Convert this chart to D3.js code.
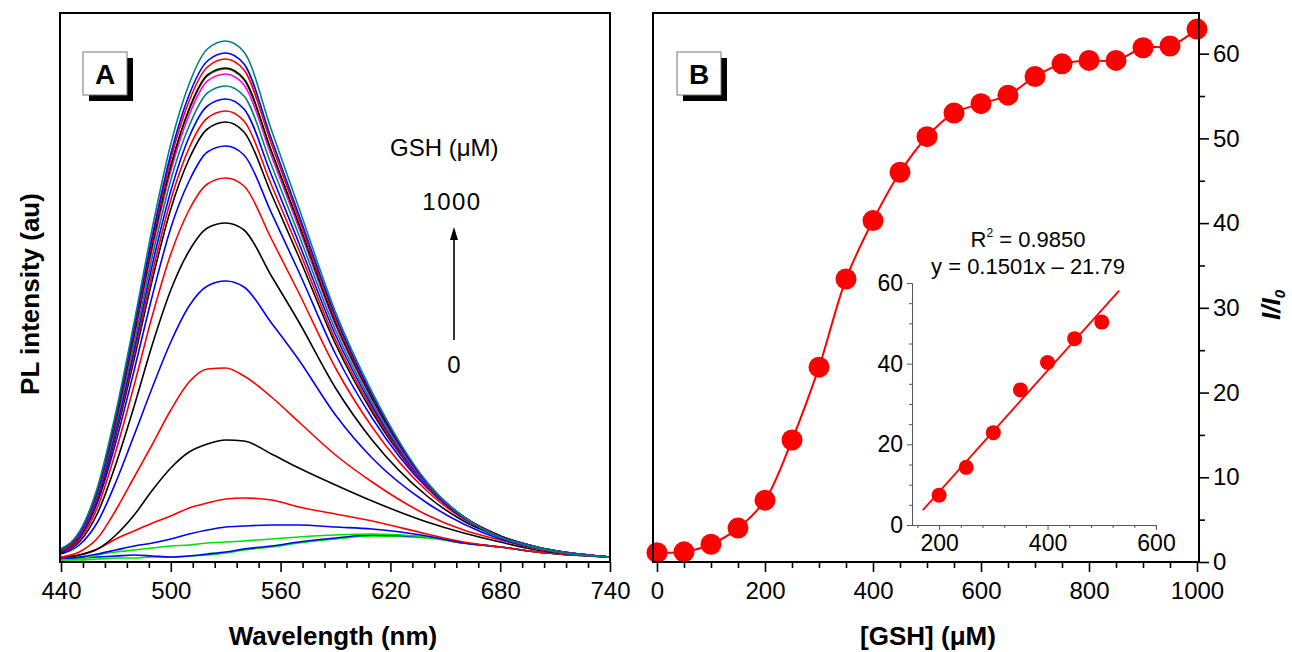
<!DOCTYPE html>
<html>
<head>
<meta charset="utf-8">
<script src="https://cdn.jsdelivr.net/npm/d3@7"></script>
<style>
  body { margin: 0; background: #fff; }
  text { font-family: "Liberation Sans", Arial, sans-serif; }
</style>
</head>
<body>
<div id="chart"></div>
<script>
// ---- panel A: PL spectra, one row per GSH concentration (0 .. 1000 uM)
var wavelengths = [440, 450, 460, 470, 480, 490, 500, 510, 520, 530, 540, 555, 570, 590, 610, 640, 660, 680, 700, 740];
var concentrations = [0, 50, 100, 150, 200, 250, 300, 350, 400, 450, 500, 550, 600, 650, 700, 750, 800, 850, 900, 950, 1000];
var spectraColors = ["#00e000", "#0000ff", "#00e000", "#0000ff", "#ff0000", "#000000", "#ff0000", "#0000ff",
  "#000000", "#ff0000", "#0000ff", "#000000", "#ff0000", "#0000ff", "#008080", "#ff00ff", "#808000",
  "#000000", "#ff0000", "#0000ff", "#008080"];
var spectra = [
  [2, 2, 3, 4, 4, 5, 5, 6, 7, 9, 12, 15, 19, 23, 26, 24, 19, 15, 10, 5],
  [3, 4, 5, 6, 7, 6, 5, 6, 8, 10, 13, 16, 20, 24, 27, 25, 19, 15, 10, 5],
  [2, 3, 7, 10, 12, 14, 16, 17, 19, 20, 21, 23, 25, 27, 28, 25, 19, 15, 10, 5],
  [4, 5, 8, 12, 16, 19, 23, 28, 32, 35, 36, 37, 37, 35, 33, 26, 19, 15, 10, 5],
  [4, 7, 13, 23, 31, 39, 46, 54, 59, 63, 64, 62, 55, 48, 41, 28, 20, 15, 10, 5],
  [5, 7, 13, 27, 47, 72, 94, 110, 118, 122, 121, 108, 94, 77, 61, 40, 29, 20, 12, 5],
  [5, 10, 24, 52, 85, 118, 152, 180, 193, 194, 186, 165, 140, 107, 80, 47, 32, 22, 13, 5],
  [8, 17, 40, 80, 127, 175, 220, 256, 276, 281, 275, 239, 202, 147, 104, 59, 38, 23, 14, 5],
  [9, 20, 49, 98, 156, 218, 272, 311, 334, 339, 332, 286, 240, 174, 122, 66, 41, 25, 14, 5],
  [10, 22, 55, 111, 177, 247, 308, 352, 378, 384, 376, 323, 269, 194, 135, 71, 43, 26, 14, 5],
  [10, 24, 60, 120, 192, 267, 334, 381, 410, 416, 407, 349, 290, 208, 144, 74, 44, 26, 15, 5],
  [11, 26, 63, 127, 203, 283, 353, 403, 433, 440, 430, 368, 305, 218, 150, 76, 45, 26, 15, 5],
  [11, 26, 65, 130, 208, 290, 362, 414, 444, 451, 441, 377, 312, 222, 153, 76, 45, 26, 15, 5],
  [12, 27, 67, 133, 213, 298, 371, 425, 456, 463, 453, 387, 319, 227, 156, 77, 45, 26, 15, 5],
  [12, 28, 69, 137, 219, 306, 382, 436, 469, 476, 466, 397, 327, 232, 159, 78, 45, 26, 15, 5],
  [12, 28, 70, 141, 225, 314, 391, 447, 481, 488, 477, 406, 334, 237, 162, 78, 45, 26, 14, 5],
  [12, 29, 71, 142, 227, 317, 395, 452, 486, 493, 482, 410, 337, 239, 163, 79, 45, 26, 14, 5],
  [12, 29, 71, 142, 228, 318, 396, 453, 487, 494, 483, 411, 338, 239, 164, 79, 45, 26, 14, 5],
  [13, 29, 72, 145, 232, 323, 403, 461, 495, 503, 492, 418, 343, 243, 166, 79, 45, 25, 14, 5],
  [13, 29, 73, 147, 235, 327, 408, 467, 501, 509, 498, 423, 347, 246, 167, 79, 45, 25, 14, 5],
  [13, 30, 75, 150, 240, 335, 418, 478, 513, 521, 510, 432, 354, 250, 170, 80, 45, 25, 14, 5]
];
var ticksA = [440, 500, 560, 620, 680, 740];

// ---- panel B: I/I0 vs [GSH]
var gsh = [0, 50, 100, 150, 200, 250, 300, 350, 400, 450, 500, 550, 600, 650, 700, 750, 800, 850, 900, 950, 1000];
var ratio = [1.1, 1.2, 2.1, 4.0, 7.3, 14.4, 23.0, 33.4, 40.3, 46.0, 50.2, 53.0, 54.1, 55.1, 57.3, 58.8, 59.2, 59.2, 60.7, 60.9, 62.9];
var ticksBx = [0, 200, 400, 600, 800, 1000];
var ticksBy = [0, 10, 20, 30, 40, 50, 60];

// ---- inset: linear range
var insetGsh = [200, 250, 300, 350, 400, 450, 500];
var insetRatio = [7.4, 14.3, 22.9, 33.5, 40.3, 46.2, 50.3];
var fitGsh = [170, 532];
var fitRatio = [3.7, 58.1];
var ticksIx = [200, 400, 600];
var ticksIy = [0, 20, 40, 60];

var svg = d3.select("#chart").append("svg")
    .attr("width", 1292)
    .attr("height", 652);

var xA = d3.scaleLinear().domain([440, 740]).range([61, 610]);
var yA = d3.scaleLinear().domain([0, 549]).range([562, 13]);
var xB = d3.scaleLinear().domain([-7.4, 1003.7]).range([653, 1199]);
var yB = d3.scaleLinear().domain([0, 64.8]).range([562, 13]);
var xI = d3.scaleLinear().domain([150, 600]).range([912, 1156]);
var yI = d3.scaleLinear().domain([0, 60]).range([525, 283]);

function styleAxis(g) {
  g.select(".domain").remove();
  g.selectAll(".tick line").attr("stroke", "#000").attr("stroke-width", 1.6);
  g.selectAll(".tick text").attr("font-size", 24).attr("fill", "#000")
    .attr("font-family", '"Liberation Sans", Arial, sans-serif');
}

// ================= panel A =================
svg.append("defs").append("clipPath").attr("id", "clipA")
  .append("rect").attr("x", 60).attr("y", 13).attr("width", 550).attr("height", 549);

var line = d3.line()
    .x(function(d, i) { return xA(wavelengths[i]); })
    .y(function(d) { return yA(d); })
    .curve(d3.curveMonotoneX);

svg.append("g").attr("clip-path", "url(#clipA)")
  .selectAll("path").data(spectra).enter().append("path")
    .attr("d", line)
    .attr("fill", "none")
    .attr("stroke", function(d, i) { return spectraColors[i]; })
    .attr("stroke-width", 1.6);

var minorA = d3.range(452, 740, 12).filter(function(v) { return (v - 440) % 60 !== 0; });
svg.append("g").attr("transform", "translate(0,562)")
  .call(d3.axisBottom(xA).tickValues(minorA).tickSize(6).tickFormat(""))
  .call(styleAxis);
svg.append("g").attr("transform", "translate(0,562)")
  .call(d3.axisBottom(xA).tickValues(ticksA).tickSize(10).tickPadding(10).tickFormat(d3.format("d")))
  .call(styleAxis);

svg.append("rect").attr("x", 60).attr("y", 13).attr("width", 550).attr("height", 549)
  .attr("fill", "none").attr("stroke", "#000").attr("stroke-width", 2);

svg.append("text").attr("x", 333).attr("y", 645).attr("text-anchor", "middle")
  .attr("font-size", 26).attr("font-weight", "bold").text("Wavelength (nm)");
svg.append("text").attr("transform", "translate(39,294) rotate(-90)").attr("text-anchor", "middle")
  .attr("font-size", 26).attr("font-weight", "bold").text("PL intensity (au)");

// legend arrow
svg.append("text").attr("x", 390).attr("y", 156).attr("font-size", 24).text("GSH (\u03bcM)");
svg.append("text").attr("x", 452).attr("y", 210).attr("text-anchor", "middle").attr("font-size", 24)
  .attr("letter-spacing", 1.5).text(concentrations[concentrations.length - 1]);
svg.append("text").attr("x", 454).attr("y", 373).attr("text-anchor", "middle").attr("font-size", 24)
  .text(concentrations[0]);
svg.append("line").attr("x1", 454).attr("x2", 454).attr("y1", 340).attr("y2", 236)
  .attr("stroke", "#000").attr("stroke-width", 1.6);
svg.append("path").attr("d", "M454,227L450,240L458,240Z").attr("fill", "#000");

// panel label boxes
function panelLabel(x, y, s) {
  svg.append("rect").attr("x", x + 6).attr("y", y + 6).attr("width", 44).attr("height", 43).attr("fill", "#000");
  svg.append("rect").attr("x", x).attr("y", y).attr("width", 44).attr("height", 43)
    .attr("fill", "#fff").attr("stroke", "#777").attr("stroke-width", 1);
  svg.append("text").attr("x", x + 22).attr("y", y + 32).attr("text-anchor", "middle")
    .attr("font-size", 28).attr("font-weight", "bold").text(s);
}
panelLabel(83, 52, "A");
panelLabel(677, 52, "B");

// ================= panel B =================
var minorBx = d3.range(50, 1000, 50).filter(function(v) { return v % 200 !== 0; });
svg.append("g").attr("transform", "translate(0,562)")
  .call(d3.axisBottom(xB).tickValues(minorBx).tickSize(6).tickFormat(""))
  .call(styleAxis);
svg.append("g").attr("transform", "translate(0,562)")
  .call(d3.axisBottom(xB).tickValues(ticksBx).tickSize(10).tickPadding(10).tickFormat(d3.format("d")))
  .call(styleAxis);

var minorBy = d3.range(5, 65, 10);
svg.append("g").attr("transform", "translate(1199,0)")
  .call(d3.axisRight(yB).tickValues(minorBy).tickSize(6).tickFormat(""))
  .call(styleAxis);
svg.append("g").attr("transform", "translate(1199,0)")
  .call(d3.axisRight(yB).tickValues(ticksBy).tickSize(10).tickPadding(4).tickFormat(d3.format("d")))
  .call(styleAxis);

svg.append("path")
  .datum(gsh)
  .attr("d", d3.line()
    .x(function(d) { return xB(d); })
    .y(function(d, i) { return yB(ratio[i]); })
    .curve(d3.curveCatmullRom))
  .attr("fill", "none").attr("stroke", "#ff0000").attr("stroke-width", 2);

svg.append("g").selectAll("circle").data(gsh).enter().append("circle")
  .attr("cx", function(d) { return xB(d); })
  .attr("cy", function(d, i) { return yB(ratio[i]); })
  .attr("r", 10.5)
  .attr("fill", "#ff0000");

svg.append("rect").attr("x", 653).attr("y", 13).attr("width", 546).attr("height", 549)
  .attr("fill", "none").attr("stroke", "#000").attr("stroke-width", 2);

svg.append("text").attr("x", 928).attr("y", 645).attr("text-anchor", "middle")
  .attr("font-size", 26).attr("font-weight", "bold").text("[GSH] (\u03bcM)");

var yl = svg.append("text").attr("transform", "translate(1280,305) rotate(-90)").attr("text-anchor", "middle")
  .attr("font-size", 26).attr("font-weight", "bold").attr("font-style", "italic");
yl.append("tspan").text("I/I");
yl.append("tspan").attr("font-size", 15).attr("dy", 5).text("0");

// ================= inset =================
var minorIx = [160, 240, 280, 320, 360, 440, 480, 520, 560];
var minorIy = d3.range(5, 60, 5).filter(function(v) { return v % 20 !== 0; });

function styleInset(g) {
  g.select(".domain").attr("stroke", "#555").attr("stroke-width", 1);
  g.selectAll(".tick line").attr("stroke", "#555").attr("stroke-width", 1);
  g.selectAll(".tick text").attr("font-size", 23).attr("fill", "#000")
    .attr("font-family", '"Liberation Sans", Arial, sans-serif');
}
svg.append("g").attr("transform", "translate(0,525)")
  .call(d3.axisBottom(xI).tickValues(minorIx).tickSize(3).tickSizeOuter(0).tickFormat(""))
  .call(styleInset);
svg.append("g").attr("transform", "translate(0,525)")
  .call(d3.axisBottom(xI).tickValues(ticksIx).tickSize(5).tickSizeOuter(0).tickPadding(5).tickFormat(d3.format("d")))
  .call(styleInset);
svg.append("g").attr("transform", "translate(912,0)")
  .call(d3.axisLeft(yI).tickValues(minorIy).tickSize(3).tickSizeOuter(0).tickFormat(""))
  .call(styleInset);
svg.append("g").attr("transform", "translate(912,0)")
  .call(d3.axisLeft(yI).tickValues(ticksIy).tickSize(5).tickSizeOuter(0).tickPadding(4).tickFormat(d3.format("d")))
  .call(styleInset);

svg.append("path")
  .datum(fitGsh)
  .attr("d", d3.line()
    .x(function(d) { return xI(d); })
    .y(function(d, i) { return yI(fitRatio[i]); }))
  .attr("fill", "none").attr("stroke", "#ff0000").attr("stroke-width", 1.8);

svg.append("g").selectAll("circle").data(insetGsh).enter().append("circle")
  .attr("cx", function(d) { return xI(d); })
  .attr("cy", function(d, i) { return yI(insetRatio[i]); })
  .attr("r", 7.5)
  .attr("fill", "#ff0000");

var r2 = svg.append("text").attr("x", 1028).attr("y", 247).attr("text-anchor", "middle").attr("font-size", 22);
r2.append("tspan").text("R");
r2.append("tspan").attr("font-size", 12).attr("dy", -10).text("2");
r2.append("tspan").attr("dy", 10).text(" = 0.9850");
svg.append("text").attr("x", 1028).attr("y", 274).attr("text-anchor", "middle").attr("font-size", 22)
  .text("y = 0.1501x \u2013 21.79");
</script>
</body>
</html>
